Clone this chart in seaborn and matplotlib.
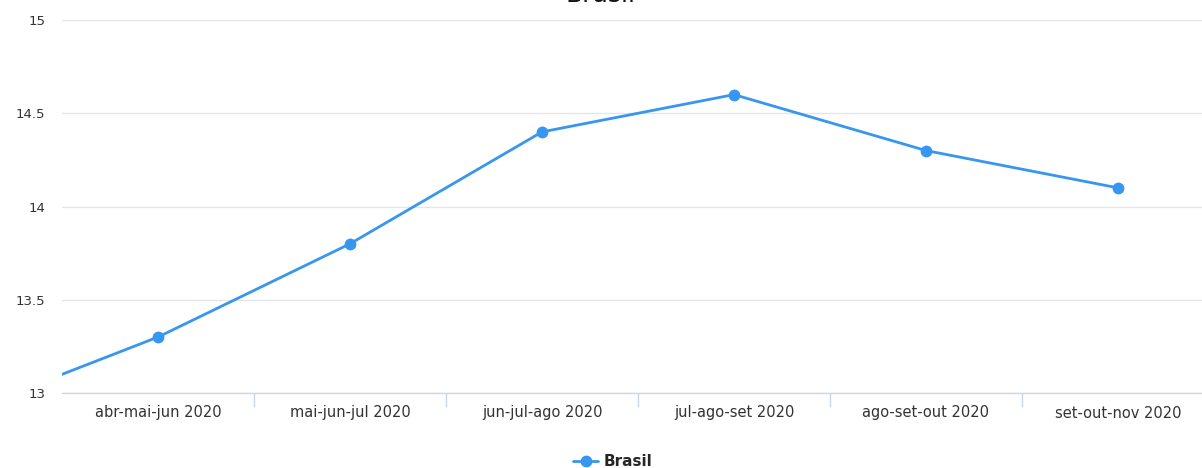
import matplotlib
matplotlib.use("Agg")
import matplotlib.pyplot as plt
from matplotlib.lines import Line2D
from matplotlib.ticker import FixedLocator, NullFormatter
import seaborn as sns
import pandas as pd

# Moving-quarter periods; the first one sits just left of the visible window
periods = ["mar-abr-mai 2020", "abr-mai-jun 2020", "mai-jun-jul 2020",
           "jun-jul-ago 2020", "jul-ago-set 2020", "ago-set-out 2020",
           "set-out-nov 2020"]
brasil = [12.9, 13.3, 13.8, 14.4, 14.6, 14.3, 14.1]
y_ticks = [13, 13.5, 14, 14.5, 15]
y_tick_labels = ["13", "13.5", "14", "14.5", "15"]

df = pd.DataFrame({"periodo": periods, "valor": brasil})

sns.set_style("white")
plt.rcParams["font.family"] = ["DejaVu Sans"]

W, H = 1202, 468
fig = plt.figure(figsize=(W / 100, H / 100), dpi=100)
left, right, top, bottom = 62, 1214, 20, 393
ax = fig.add_axes([left / W, 1 - bottom / H, (right - left) / W, (bottom - top) / H])

color = "#3796ef"
sns.lineplot(data=df, x="periodo", y="valor", ax=ax, color=color, linewidth=2,
             marker="o", markersize=8.5, markeredgewidth=0, sort=False, legend=False)

ax.set_xlim(0.5, len(periods) - 0.5)
ax.set_ylim(13, 15)
ax.set_xlabel("")
ax.set_ylabel("")

# Category labels at centres, tick marks on category boundaries
ax.xaxis.set_major_locator(FixedLocator(range(1, len(periods))))
ax.set_xticklabels(periods[1:], fontsize=10.5, color="#333333")
ax.tick_params(axis="x", which="major", length=0, pad=9)
ax.xaxis.set_minor_locator(FixedLocator([i + 0.5 for i in range(1, len(periods) - 1)]))
ax.xaxis.set_minor_formatter(NullFormatter())
ax.tick_params(axis="x", which="minor", bottom=True, length=10, width=1,
               color="#ccd6eb", direction="out")

ax.set_yticks(y_ticks)
ax.set_yticklabels(y_tick_labels, fontsize=9.5, color="#333333")
ax.tick_params(axis="y", length=0, pad=20)
for lbl in ax.get_yticklabels():
    lbl.set_horizontalalignment("right")
ax.tick_params(axis="y", pad=12)

ax.grid(axis="y", color="#e6e6e6", linewidth=1)
ax.grid(axis="x", visible=False)
ax.set_axisbelow(True)
for side in ["top", "right", "left"]:
    ax.spines[side].set_visible(False)
ax.spines["bottom"].set_color("#ccd6eb")
ax.spines["bottom"].set_linewidth(1)
ax.spines["bottom"].set_zorder(0.5)

fig.text(0.5, 1 - 2 / H, "Brasil", ha="center", va="baseline", fontsize=18, color="#111111")

handle = Line2D([], [], color=color, linewidth=2, marker="o", markersize=8.5, markeredgewidth=0)
fig.legend([handle], ["Brasil"], loc="center", bbox_to_anchor=(613 / W, 1 - 462 / H),
           frameon=False, prop={"weight": "bold", "size": 11}, handlelength=1.6,
           handletextpad=0.4, borderaxespad=0)

fig.savefig("out.png", dpi=100)
